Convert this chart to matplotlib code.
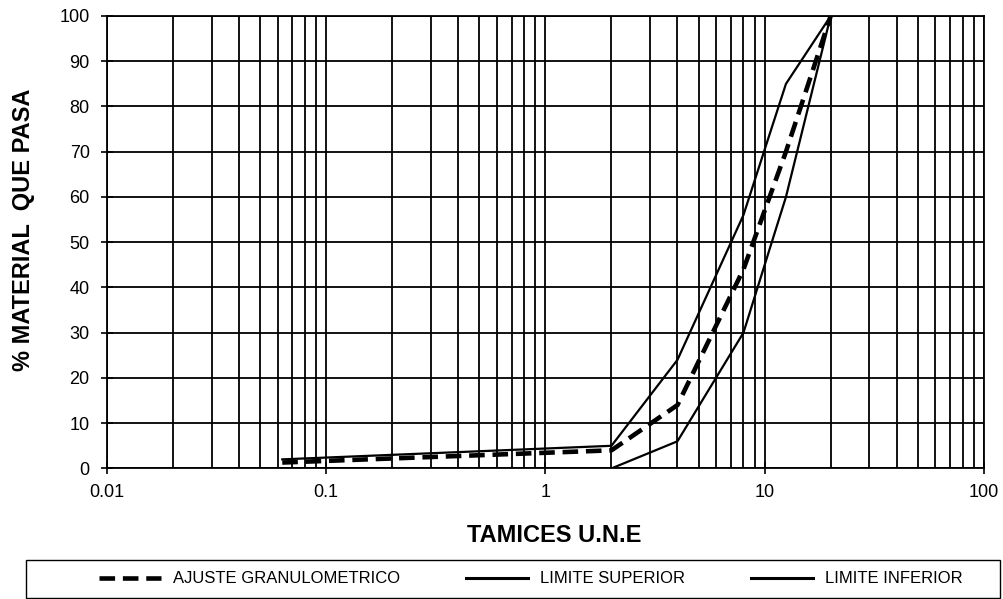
import numpy as np
import matplotlib
matplotlib.use("Agg")
import matplotlib.pyplot as plt
from matplotlib.ticker import FixedLocator, NullFormatter
from matplotlib.patches import Rectangle

plt.rcParams['font.family'] = ['Liberation Sans', 'DejaVu Sans']

# tamices (mm) y % que pasa
tamiz = [0.063, 2, 4, 8, 12.5, 20]
ajuste = [1.3, 4, 14, 44, 70, 100]
lim_sup = [2, 5, 24, 56, 85, 100]
lim_inf = [0, 0, 6, 30, 60, 100]

x_ticks = [0.01, 0.1, 1, 10, 100]
x_labels = ["0.01", "0.1", "1", "10", "100"]
y_ticks = list(range(0, 101, 10))

fig = plt.figure(figsize=(10.04, 5.99), dpi=100)
ax = fig.add_axes([0.1066, 0.218, 0.8734, 0.7553])

ax.set_xscale('log')
ax.set_xlim(0.01, 100)
ax.set_ylim(0, 100)

# grid: every minor log position and every 10 %
minors = []
for d in [0.01, 0.1, 1, 10]:
    for k in range(2, 10):
        minors.append(d * k)
ax.xaxis.set_major_locator(FixedLocator(x_ticks))
ax.xaxis.set_minor_locator(FixedLocator(minors))
ax.xaxis.set_minor_formatter(NullFormatter())
ax.set_xticklabels(x_labels)
ax.set_yticks(y_ticks)

ax.grid(True, which='both', axis='x', color='black', linewidth=1.3)
ax.grid(True, which='major', axis='y', color='black', linewidth=1.3)
ax.set_axisbelow(True)

ax.tick_params(axis='x', which='major', direction='inout', length=9, width=1.2,
               labelsize=13, pad=7)
ax.tick_params(axis='x', which='minor', length=0)
ax.tick_params(axis='y', direction='inout', length=9, width=1.2, labelsize=13, pad=8)
for s in ax.spines.values():
    s.set_linewidth(1.3)

l1, = ax.plot(tamiz, ajuste, color='black', linewidth=3.3, dashes=(3.4, 1.7),
              label='AJUSTE GRANULOMETRICO', zorder=4)
l2, = ax.plot(tamiz, lim_sup, color='black', linewidth=1.6,
              label='LIMITE SUPERIOR', zorder=3)
l3, = ax.plot(tamiz, lim_inf, color='black', linewidth=1.6,
              label='LIMITE INFERIOR', zorder=3)

ax.set_xlabel('TAMICES U.N.E', fontsize=17, fontweight='bold')
ax.xaxis.set_label_coords(0.51, -0.122)
ax.set_ylabel('% MATERIAL  QUE PASA', fontsize=17, fontweight='bold')
ax.yaxis.set_label_coords(-0.082, 0.527)

# legend box below the chart
fig.patches.append(Rectangle((0.0259, 0.002), 0.970, 0.0634, transform=fig.transFigure,
                             fill=False, edgecolor='black', linewidth=1.0))
leg = fig.legend(handles=[l1, l2, l3], loc='center left', ncol=3,
                 bbox_to_anchor=(0.0905, 0.0334), frameon=False, borderpad=0,
                 handlelength=3.7, handletextpad=0.7, columnspacing=4.0,
                 prop={'size': 12})
for h in leg.legend_handles[1:]:
    h.set_linewidth(2.2)

fig.savefig('out.png', dpi=100)
